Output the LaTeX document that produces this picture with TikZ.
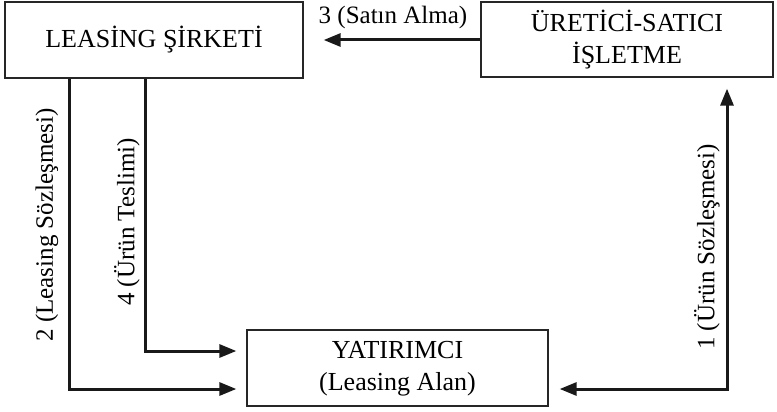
\documentclass[tikz,border=0pt]{standalone}
\usepackage{fontspec}
\setmainfont{Liberation Serif}
\usetikzlibrary{arrows.meta}
\begin{document}
\begin{tikzpicture}[x=1pt,y=-1pt,
  box/.style={draw=black!85,line width=1.3pt,inner sep=0pt,align=center,font=\fontsize{26}{32}\selectfont},
  arr/.style={line width=3pt,draw=black!90,-{Triangle[length=17pt,width=13pt]}},
  lbl/.style={font=\fontsize{25}{28}\selectfont,inner sep=0pt}]
  \useasboundingbox (0,0) rectangle (777,412);
  % boxes
  \node[box,minimum width=298pt,minimum height=76pt] (lease) at (154,40) {LEASİNG ŞİRKETİ};
  \node[box,minimum width=292pt,minimum height=75pt] (ure) at (627,39.5) {ÜRETİCİ-SATICI\\İŞLETME};
  \node[box,minimum width=301pt,minimum height=76pt,text depth=4pt] (yat) at (397.5,368) {YATIRIMCI\\(Leasing Alan)};
  % bend points of the connectors
  \coordinate (c2) at (69,389);
  \coordinate (c4) at (145,351);
  \coordinate (c3) at (0,40);
  \coordinate (c1) at (727,389);
  % connectors
  \draw[arr,shorten >=10pt] (lease.south -| c2) |- (yat.west |- c2);
  \draw[arr,shorten >=10pt] (lease.south -| c4) |- (yat.west |- c4);
  \draw[arr,shorten >=20pt] (ure.west |- c3) -- (lease.east |- c3);
  \draw[arr,{Triangle[length=17pt,width=13pt]}-{Triangle[length=17pt,width=13pt]},shorten <=11pt,shorten >=11pt]
    (yat.east |- c1) -| (ure.south -| c1);
  % labels
  \node[lbl] (l3) at (393,17) {3 (Satın Alma)};
  \node[lbl,rotate=90] (l2) at (47,225) {2 (Leasing Sözleşmesi)};
  \node[lbl,rotate=90] (l4) at (127,222) {4 (Ürün Teslimi)};
  \node[lbl,rotate=90] (l1) at (707,247) {1 (Ürün Sözleşmesi)};
\end{tikzpicture}
\end{document}
